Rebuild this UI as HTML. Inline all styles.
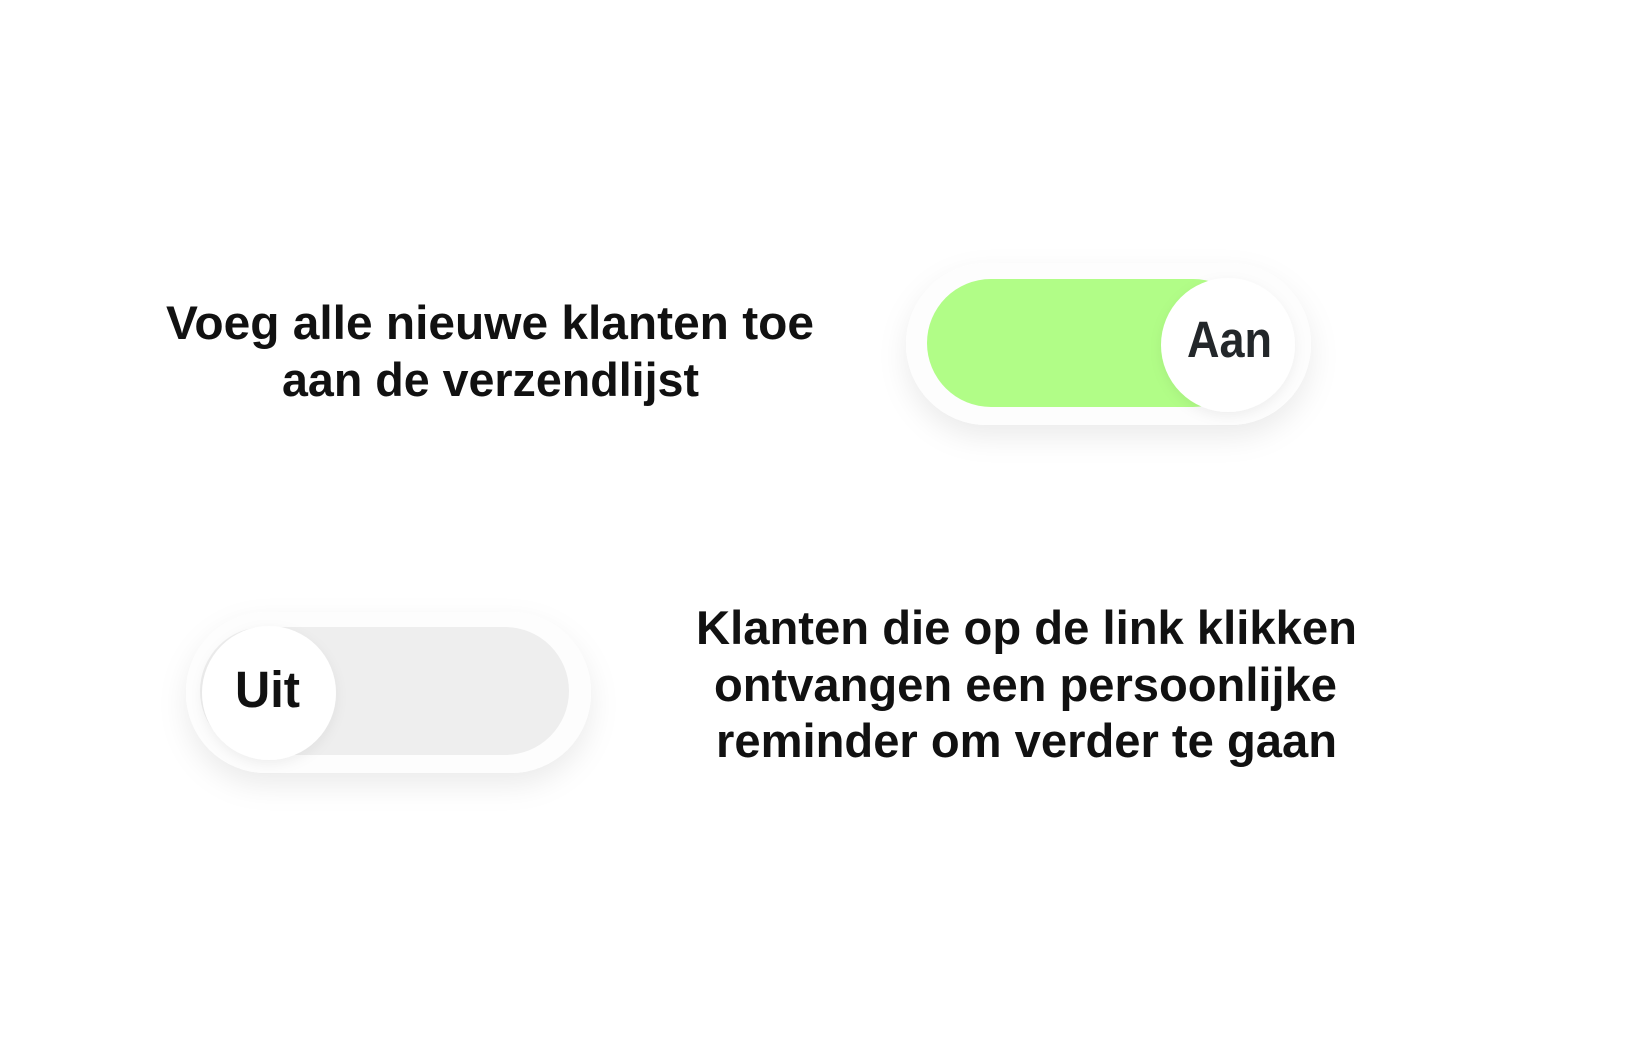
<!DOCTYPE html>
<html><head><meta charset="utf-8"><style>
html,body{margin:0;padding:0;background:#fff;width:1638px;height:1038px;overflow:hidden}
</style></head><body>
<svg width="1638" height="1038" viewBox="0 0 1638 1038" xmlns="http://www.w3.org/2000/svg">
<defs>
<filter id="sh" x="-20%" y="-40%" width="140%" height="200%">
<feDropShadow dx="0" dy="12" stdDeviation="14" flood-color="#000" flood-opacity="0.08"/>
</filter>
<filter id="sh2" x="-20%" y="-40%" width="140%" height="200%">
<feDropShadow dx="0" dy="4" stdDeviation="6" flood-color="#000" flood-opacity="0.06"/>
</filter>
</defs>
<g font-family="Liberation Sans, sans-serif" font-weight="bold" fill="#111">
<text x="166" y="339" font-size="47" textLength="648" lengthAdjust="spacingAndGlyphs">Voeg alle nieuwe klanten toe</text>
<text x="282" y="396" font-size="47" textLength="417" lengthAdjust="spacingAndGlyphs">aan de verzendlijst</text>
<text x="696" y="644" font-size="47" textLength="661" lengthAdjust="spacingAndGlyphs">Klanten die op de link klikken</text>
<text x="714" y="701" font-size="47" textLength="623" lengthAdjust="spacingAndGlyphs">ontvangen een persoonlijke</text>
<text x="716" y="757" font-size="47" textLength="621" lengthAdjust="spacingAndGlyphs">reminder om verder te gaan</text>
</g>
<!-- Aan toggle -->
<rect x="906" y="263" width="405" height="162" rx="81" fill="#fff" filter="url(#sh)"/>
<rect x="906" y="263" width="405" height="162" rx="81" fill="#fdfdfd"/>
<rect x="927" y="279" width="330" height="128" rx="64" fill="#b1fd87"/>
<circle cx="1228" cy="345" r="67" fill="#fff" filter="url(#sh2)"/>
<text x="1187" y="357" font-family="Liberation Sans, sans-serif" font-weight="bold" font-size="51" fill="#23272a" textLength="85" lengthAdjust="spacingAndGlyphs">Aan</text>
<!-- Uit toggle -->
<rect x="186" y="612" width="405" height="161" rx="80" fill="#fff" filter="url(#sh)"/>
<rect x="186" y="612" width="405" height="161" rx="80" fill="#fdfdfd"/>
<rect x="200" y="627" width="369" height="128" rx="64" fill="#eeeeee"/>
<circle cx="269" cy="693" r="67" fill="#fff" filter="url(#sh2)"/>
<text x="235" y="707" font-family="Liberation Sans, sans-serif" font-weight="bold" font-size="51" fill="#111" textLength="65" lengthAdjust="spacingAndGlyphs">Uit</text>
</svg>
</body></html>
